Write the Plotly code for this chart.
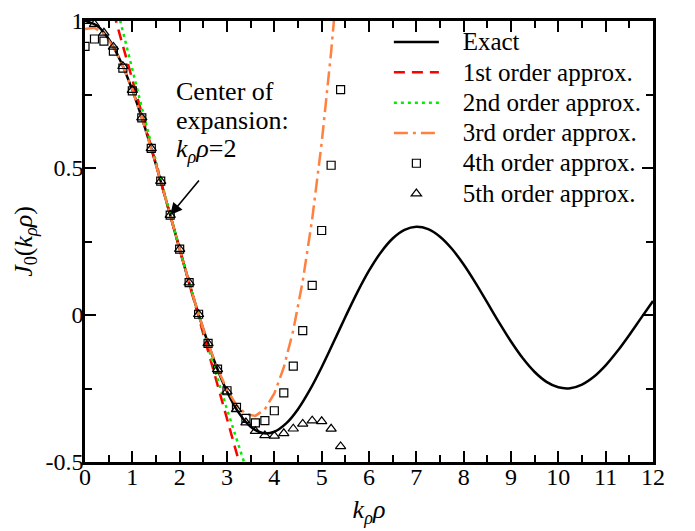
import plotly.graph_objects as go

# ---- data ----
x_exact = [0, 0.25, 0.5, 0.75, 1, 1.25, 1.5, 1.75, 2, 2.25, 2.5, 2.75, 3, 3.25, 3.5, 3.75,
           4, 4.25, 4.5, 4.75, 5, 5.25, 5.5, 5.75, 6, 6.25, 6.5, 6.75, 7, 7.25, 7.5, 7.75,
           8, 8.25, 8.5, 8.75, 9, 9.25, 9.5, 9.75, 10, 10.25, 10.5, 10.75, 11, 11.25, 11.5, 11.75, 12]
y_exact = [1.0, 0.9844, 0.9385, 0.8642, 0.7652, 0.6460, 0.5118, 0.3690, 0.2239, 0.0820,
           -0.0484, -0.1641, -0.2601, -0.3328, -0.3801, -0.4016, -0.3971, -0.3688, -0.3205,
           -0.2550, -0.1776, -0.0930, -0.0068, 0.0761, 0.1506, 0.2129, 0.2601, 0.2895, 0.3001,
           0.2920, 0.2663, 0.2253, 0.1717, 0.1093, 0.0419, -0.0259, -0.0903, -0.1474, -0.1939,
           -0.2273, -0.2459, -0.2490, -0.2366, -0.2101, -0.1712, -0.1227, -0.0677, -0.0097, 0.0477]

x_o1 = [0.5, 3.4]
y_o1 = [1.0890, -0.5835]

x_o2 = [0.6, 0.8, 1.0, 1.2, 1.4, 1.6, 1.8, 2.0, 2.2, 2.4, 2.6, 2.8, 3.0, 3.2, 3.4]
y_o2 = [1.0945, 0.9624, 0.8329, 0.7059, 0.5815, 0.4597, 0.3405, 0.2239, 0.1098, -0.0016,
        -0.1105, -0.2169, -0.3206, -0.4218, -0.5203]

x_o3 = [0, 0.2, 0.4, 0.6, 0.8, 1.0, 1.2, 1.4, 1.6, 1.8, 2.0, 2.2, 2.4, 2.6, 2.8, 3.0,
        3.2, 3.4, 3.6, 3.8, 4.0, 4.2, 4.4, 4.6, 4.8, 5.0, 5.2, 5.4]
y_o3 = [0.9725, 0.9773, 0.9559, 0.9114, 0.8471, 0.7661, 0.6717, 0.5671, 0.4555, 0.3400,
        0.2239, 0.1104, 0.0026, -0.0961, -0.1827, -0.2539, -0.3065, -0.3373, -0.3431,
        -0.3207, -0.2669, -0.1785, -0.0523, 0.1150, 0.3264, 0.5852, 0.8947, 1.2580]

x_pts = [0, 0.2, 0.4, 0.6, 0.8, 1.0, 1.2, 1.4, 1.6, 1.8, 2.0, 2.2, 2.4, 2.6, 2.8, 3.0,
         3.2, 3.4, 3.6, 3.8, 4.0, 4.2, 4.4, 4.6, 4.8, 5.0, 5.2, 5.4]
y_o4 = [0.9137, 0.9388, 0.9318, 0.8973, 0.8395, 0.7625, 0.6702, 0.5666, 0.4554, 0.3400,
        0.2239, 0.1104, 0.0025, -0.0966, -0.1842, -0.2576, -0.3141, -0.3514, -0.3672,
        -0.3593, -0.3257, -0.2646, -0.1742, -0.0530, 0.1005, 0.2875, 0.5093, 0.7669]
y_o5 = [0.9992, 0.9892, 0.9598, 0.9117, 0.8461, 0.7651, 0.6711, 0.5669, 0.4554, 0.3400,
        0.2239, 0.1104, 0.0025, -0.0968, -0.1851, -0.2602, -0.3207, -0.3658, -0.3952,
        -0.4097, -0.4112, -0.4023, -0.3869, -0.3704, -0.3593, -0.3617, -0.3872, -0.4470]

x_ticks = [0, 1, 2, 3, 4, 5, 6, 7, 8, 9, 10, 11, 12]
y_ticks = [-0.5, 0, 0.5, 1]
y_ticklabels = ["-0.5", "0", "0.5", "1"]

names = ["Exact", "1st order approx.", "2nd order approx.", "3rd order approx.",
         "4th order approx.", "5th order approx."]

FONT = "Liberation Serif"


def lbl(s):
    return '<span style="font-size:25px">\u00a0\u00a0\u00a0' + s + '</span>'


fig = go.Figure()
fig.add_trace(go.Scatter(x=x_exact, y=y_exact, mode="lines", name=lbl(names[0]),
                         line=dict(color="black", width=2.5, shape="spline")))
fig.add_trace(go.Scatter(x=x_o1, y=y_o1, mode="lines", name=lbl(names[1]),
                         line=dict(color="#ff0000", width=2.5, dash="11px,7px")))
fig.add_trace(go.Scatter(x=x_o2, y=y_o2, mode="lines", name=lbl(names[2]),
                         line=dict(color="#00ee00", width=2.5, dash="3px,4px")))
fig.add_trace(go.Scatter(x=x_o3, y=y_o3, mode="lines", name=lbl(names[3]),
                         line=dict(color="#ff8040", width=2.5, dash="14px,5px,3px,5px")))
fig.add_trace(go.Scatter(x=x_pts, y=y_o4, mode="markers", name=lbl(names[4]),
                         marker=dict(symbol="square-open", size=8, color="black",
                                     line=dict(width=1.2, color="black"))))
fig.add_trace(go.Scatter(x=x_pts, y=y_o5, mode="markers", name=lbl(names[5]),
                         marker=dict(symbol="triangle-up-open", size=9, color="black",
                                     line=dict(width=1.2, color="black"))))

axis_common = dict(
    showline=True, linecolor="black", linewidth=2.5, mirror="ticks",
    ticks="inside", ticklen=11, tickwidth=2, tickcolor="black",
    showgrid=False, zeroline=False, ticklabeloverflow="allow",
    tickfont=dict(family=FONT, size=24, color="black"),
)

fig.update_xaxes(range=[0, 12], tickvals=x_ticks, ticktext=[str(v) for v in x_ticks],
                 ticklabelstandoff=-9,
                 minor=dict(dtick=0.5, ticks="inside", ticklen=7, tickwidth=2, tickcolor="black"),
                 title=dict(text="<i>k</i><sub><i>ρ</i></sub><i>ρ</i>",
                            font=dict(family=FONT, size=26, color="black"), standoff=12),
                 **axis_common)
fig.update_yaxes(range=[-0.5, 1], tickvals=y_ticks, ticktext=y_ticklabels,
                 ticklabelstandoff=-6,
                 minor=dict(dtick=0.25, ticks="inside", ticklen=7, tickwidth=2, tickcolor="black"),
                 title=dict(text="<i>J</i><sub>0</sub>(<i>k</i><sub><i>ρ</i></sub><i>ρ</i>)",
                            font=dict(family=FONT, size=26, color="black"), standoff=6),
                 **axis_common)

fig.add_annotation(x=1.8, y=0.34, ax=30, ay=-36, text="", showarrow=True,
                   arrowhead=2, arrowsize=1.5, arrowwidth=1.6, arrowcolor="black")
fig.add_annotation(x=1.88, y=0.816, xanchor="left", yanchor="top", align="left",
                   showarrow=False,
                   text='<span style="font-size:26px">Center of</span><br>'
                        '<span style="font-size:26px">expansion:</span><br>'
                        '<span style="font-size:26px"><i>k</i><sub><i>ρ</i></sub><i>ρ</i>=2</span>',
                   font=dict(family=FONT, size=22, color="black"))

fig.update_layout(
    width=695, height=531,
    margin=dict(l=85, r=42, t=8, b=69),
    paper_bgcolor="white", plot_bgcolor="white",
    font=dict(family=FONT, color="black"),
    legend=dict(x=0.535, y=0.998, xanchor="left", yanchor="top",
                bgcolor="rgba(0,0,0,0)", borderwidth=0,
                font=dict(family=FONT, size=21, color="black"),
                itemwidth=45),
    showlegend=True,
)

fig.write_html("out.html", config={"displayModeBar": False},
               post_script="document.body.style.margin='0';")
